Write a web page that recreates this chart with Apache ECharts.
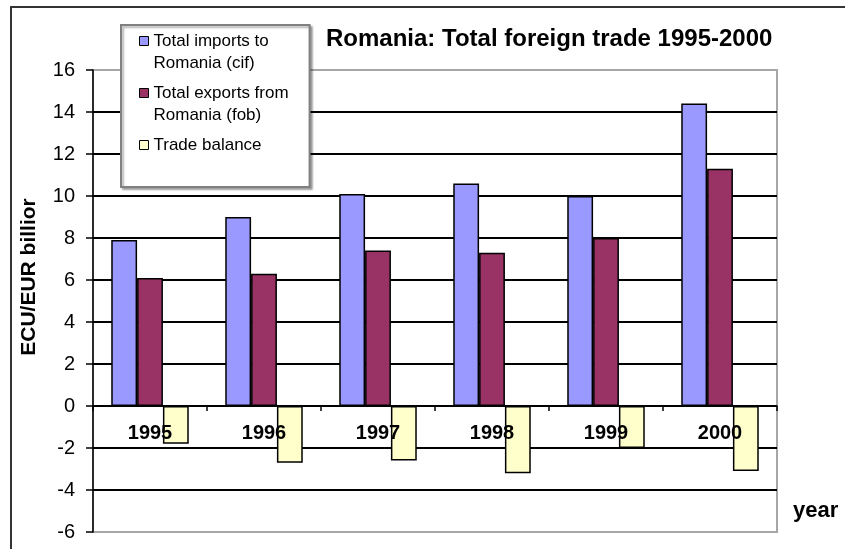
<!DOCTYPE html>
<html>
<head>
<meta charset="utf-8">
<script src="https://cdn.jsdelivr.net/npm/echarts@6/dist/echarts.min.js"></script>
<style>
  html, body { margin: 0; padding: 0; background: #fff; }
  #chart { width: 845px; height: 549px; }
</style>
</head>
<body>
<div id="chart"></div>
<script>
// values, ECU/EUR billion
const years = ['1995', '1996', '1997', '1998', '1999', '2000'];
const imports = [7.9, 9.0, 10.1, 10.6, 10.0, 14.4];
const exports = [6.1, 6.3, 7.4, 7.3, 8.0, 11.3];
const balance = [-1.8, -2.7, -2.6, -3.2, -2.0, -3.1];
const yTicks = { min: -6, max: 16, step: 2 };

const font = 'Arial, "Liberation Sans", sans-serif';

const chart = echarts.init(document.getElementById('chart'));

const barStyle = (color) => ({
  color: color,
  borderColor: '#000',
  borderWidth: 1.5
});

const option = {
  animation: false,
  backgroundColor: '#fff',
  title: [
    {
      text: 'Romania: Total foreign trade 1995-2000',
      left: 326,
      top: 27,
      padding: 0,
      textStyle: { fontFamily: font, fontSize: 24, fontWeight: 'bold', color: '#000' }
    },
    {
      text: 'year',
      left: 793,
      top: 500,
      padding: 0,
      textStyle: { fontFamily: font, fontSize: 22, fontWeight: 'bold', color: '#000' }
    }
  ],
  legend: {
    orient: 'vertical',
    left: 121,
    top: 25,
    padding: [5, 21, 9, 18],
    itemGap: 8,
    itemWidth: 9,
    itemHeight: 31,
    // square at the top so it sits beside the first text line
    icon: 'path://M0,0h9v9h-9z M0,31L0,31',
    itemStyle: { borderColor: '#000', borderWidth: 1 },
    selectedMode: false,
    backgroundColor: '#fff',
    borderColor: '#808080',
    borderWidth: 2,
    shadowColor: 'rgba(0,0,0,0.3)',
    shadowBlur: 2,
    shadowOffsetX: 2,
    shadowOffsetY: 2,
    textStyle: { fontFamily: font, fontSize: 17, color: '#000', lineHeight: 22 },
    formatter: function (name) {
      if (name === 'Total imports to Romania (cif)') return 'Total imports to\nRomania (cif)';
      if (name === 'Total exports from Romania (fob)') return 'Total exports from\nRomania (fob)';
      return name + '\n ';
    },
    data: ['Total imports to Romania (cif)', 'Total exports from Romania (fob)', 'Trade balance']
  },
  graphic: [
    {
      type: 'rect',
      shape: { x: 11, y: 7, width: 900, height: 600 },
      style: { fill: 'none', stroke: '#333', lineWidth: 2 },
      silent: true,
      z: -1
    }
  ],
  grid: {
    left: 93,
    right: 68,
    top: 70,
    bottom: 17,
    outerBoundsMode: 'none',
    containLabel: false,
    show: true,
    borderColor: '#a6a6a6',
    borderWidth: 2
  },
  xAxis: {
    type: 'category',
    data: years,
    position: 'bottom',
    offset: 0,
    z: 3,
    axisLine: { onZero: false, lineStyle: { color: '#000', width: 1.5 } },
    axisTick: { show: true, length: 5, lineStyle: { color: '#000', width: 1.5 } },
    axisLabel: {
      margin: 17,
      fontFamily: font,
      fontSize: 20,
      fontWeight: 'bold',
      color: '#000'
    },
    splitLine: { show: false }
  },
  yAxis: {
    type: 'value',
    min: yTicks.min,
    max: yTicks.max,
    interval: yTicks.step,
    name: 'ECU/EUR billior',
    nameLocation: 'middle',
    nameGap: 53,
    nameRotate: 90,
    nameTextStyle: {
      fontFamily: font,
      fontSize: 21,
      fontWeight: 'bold',
      color: '#000',
      padding: [0, 0, 0, 48]
    },
    axisLine: { show: true, lineStyle: { color: '#000', width: 1.5 } },
    axisTick: { show: true, length: 7, lineStyle: { color: '#000', width: 1.5 } },
    axisLabel: { margin: 18, fontFamily: font, fontSize: 20, color: '#000' },
    splitLine: {
      show: true,
      showMinLine: false,
      showMaxLine: false,
      lineStyle: { color: '#000', width: 2 }
    }
  },
  series: [
    {
      name: 'Total imports to Romania (cif)',
      type: 'bar',
      data: imports,
      barGap: 0,
      barCategoryGap: '32%',
      itemStyle: barStyle('#9999ff')
    },
    {
      name: 'Total exports from Romania (fob)',
      type: 'bar',
      data: exports,
      itemStyle: barStyle('#993366')
    },
    {
      name: 'Trade balance',
      type: 'bar',
      data: balance,
      itemStyle: barStyle('#ffffcc')
    }
  ]
};

chart.setOption(option);

// lift the category axis (line, ticks, labels) up to the zero line
const zeroY = chart.convertToPixel({ yAxisIndex: 0 }, 0);
const bottomY = chart.convertToPixel({ yAxisIndex: 0 }, yTicks.min);
chart.setOption({ xAxis: { offset: zeroY - bottomY } });
</script>
</body>
</html>
